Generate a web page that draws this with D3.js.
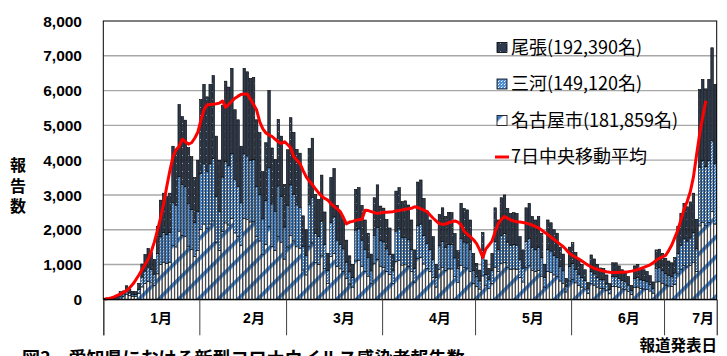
<!DOCTYPE html>
<html><head><meta charset="utf-8">
<script src="https://cdn.jsdelivr.net/npm/d3@7"></script>
<style>
html,body{margin:0;padding:0;background:#fff;}
svg{display:block;}
</style></head><body>
<svg id="c" width="727" height="356"></svg>
<script>
// ---- data (daily reports, 2022-01-01 .. 2022-07-17) ----
const nagoya = [7,7,14,21,35,77,84,137,102,81,77,161,355,452,513,473,403,732,998,1068,1033,1068,1540,1505,1960,1838,1803,1526,1435,1225,1400,
2013,2163,2037,2163,2251,1642,1400,1953,2195,2135,2324,1908,1806,1540,2324,2289,2223,2233,1806,1677,1285,1575,2100,1523,1407,1810,1642,1155,
1505,1827,1680,1509,1470,840,700,1519,1621,1054,1005,1250,879,462,1225,1316,945,875,805,595,438,350,1106,1124,945,798,665,455,1022,1152,938,
917,805,718,455,1089,1124,984,991,949,798,497,1180,1201,1015,889,798,630,350,854,921,833,875,872,662,490,966,914,900,798,462,
361,294,672,396,312,462,921,798,1022,1050,914,865,872,865,630,497,921,966,833,798,833,665,350,798,770,700,665,525,455,210,525,
571,473,403,350,298,168,446,406,350,315,312,245,158,368,368,336,298,280,228,140,336,350,312,298,280,238,175,497,504,462,
413,385,368,420,735,865,966,931,980,1068,805,2111,2212,2118,2212,2531,2163];
const mikawa = [6,6,11,17,28,62,67,109,81,64,62,129,284,361,410,378,322,585,798,854,826,854,1232,1204,1568,1470,1442,1221,1148,980,1120,
1610,1730,1630,1730,1800,1313,1120,1562,1756,1708,1859,1526,1445,1232,1859,1831,1778,1786,1445,1341,1028,1260,1680,1218,1126,1448,1313,924,
1204,1462,1344,1207,1176,672,560,1215,1296,843,804,1000,703,370,980,1053,756,700,644,476,350,280,885,899,756,638,532,364,818,921,750,
734,644,574,364,871,899,787,792,759,638,398,944,960,812,711,638,504,280,683,736,666,700,697,529,392,773,731,720,638,370,
288,235,538,316,249,370,736,638,818,840,731,692,697,692,504,398,736,773,666,638,666,532,280,638,616,560,532,420,364,168,420,
456,378,322,280,238,134,357,325,280,252,249,196,126,294,294,269,238,224,182,112,269,280,249,238,224,190,140,398,403,370,
330,308,294,336,588,692,773,745,784,854,644,1688,1770,1694,1770,2024,1730];
const owari = [7,7,15,22,37,81,89,144,107,85,81,170,376,477,542,499,425,773,1054,1128,1091,1128,1628,1591,2072,1942,1905,1613,1517,1295,1480,
2127,2287,2153,2287,2379,1735,1480,2065,2319,2257,2457,2016,1909,1628,2457,2420,2349,2361,1909,1772,1357,1665,2220,1609,1487,1912,1735,1221,
1591,1931,1776,1594,1554,888,740,1606,1713,1113,1061,1320,928,488,1295,1391,999,925,851,629,462,370,1169,1187,999,844,703,481,1080,1217,992,
969,851,758,481,1150,1187,1039,1047,1002,844,525,1246,1269,1073,940,844,666,370,903,973,881,925,921,699,518,1021,965,950,844,488,
381,311,710,418,329,488,973,844,1080,1110,965,913,921,913,666,525,973,1021,881,844,881,703,370,844,814,740,703,555,481,222,555,
603,499,425,370,314,178,472,429,370,333,329,259,166,388,388,355,314,296,240,148,355,370,329,314,296,252,185,525,533,488,
437,407,388,444,777,913,1021,984,1036,1128,851,2231,2338,2238,2338,2675,2287];
const movingAvg = [10,20,40,70,110,150,200,250,330,430,560,700,850,1000,1150,1380,1650,1990,2350,2750,3250,3700,4100,4300,4400,4600,4530,4460,4500,4630,4800,
5150,5450,5590,5600,5610,5620,5640,5700,5520,5600,5700,5780,5840,5890,5900,5900,5750,5600,5440,5100,4900,4780,4720,4680,4600,4530,4480,4530,
4450,4350,4100,4000,3900,3700,3520,3400,3300,3170,3060,2960,2900,2850,2750,2670,2600,2520,2350,2170,2220,2240,2270,2290,2300,2560,2550,2520,2490,2470,2480,
2500,2500,2510,2520,2540,2550,2570,2590,2600,2615,2660,2640,2600,2560,2520,2420,2330,2250,2170,2160,2165,2200,2230,2250,2220,2140,1950,1870,1800,1710,
1600,1420,1200,1450,1560,1680,1950,2180,2300,2380,2330,2280,2250,2230,2220,2210,2190,2165,2130,2090,2050,1990,1920,1860,1790,1720,1650,1580,1510,1420,1320,
1260,1210,1160,1100,1040,980,930,890,860,835,810,790,776,772,770,775,780,788,795,810,830,855,885,920,955,990,1050,1120,1180,1220,
1260,1400,1560,1780,2000,2300,2600,2820,3100,3520,4150,4750,5250,5710];
const legendLabels = ["尾張(192,390名)","三河(149,120名)","名古屋市(181,859名)","7日中央移動平均"];
const yTicks = [0,1000,2000,3000,4000,5000,6000,7000,8000];
const monthLabels = ["1月","2月","3月","4月","5月","6月","7月"];
const monthLabelDates = ["2022-01-19","2022-02-18","2022-03-19","2022-04-19","2022-05-19","2022-06-19","2022-07-13"];
const startDate = new Date(Date.UTC(2022,0,1));
const endDate = new Date(Date.UTC(2022,6,18));

// ---- chart ----
const svg = d3.select("#c");
const X0 = 103.3, X1 = 716.7, Y0 = 299.3, Y1 = 21;
const days = d3.utcDay.range(startDate, endDate);
const x = d3.scaleUtc().domain([startDate, endDate]).range([X0, X1]);
const y = d3.scaleLinear().domain([0, 8000]).range([Y0, Y1]);
const pitch = x(days[1]) - x(days[0]);

const defs = svg.append("defs");
const pO = defs.append("pattern").attr("id","pOwari").attr("patternUnits","userSpaceOnUse").attr("width",6).attr("height",8);
pO.append("rect").attr("width",6).attr("height",8).attr("fill","#2e3b4f");
pO.append("rect").attr("x",2).attr("y",3).attr("width",1).attr("height",1).attr("fill","#8d9db2");
const pM = defs.append("pattern").attr("id","pMikawa").attr("patternUnits","userSpaceOnUse").attr("width",3).attr("height",3);
pM.append("rect").attr("width",3).attr("height",3).attr("fill","#4f8dd2");
pM.append("rect").attr("x",0).attr("y",0).attr("width",1).attr("height",1).attr("fill","#ffffff");
pM.append("rect").attr("x",1).attr("y",2).attr("width",1).attr("height",1).attr("fill","#a8caee");
const pN = defs.append("pattern").attr("id","pNagoya").attr("patternUnits","userSpaceOnUse")
  .attr("width",14).attr("height",14).attr("patternTransform","rotate(-45)");
pN.append("rect").attr("width",14).attr("height",14).attr("fill","#ffffff");
pN.append("rect").attr("width",14).attr("height",3.6).attr("fill","#3a7bc6");

// gridlines
svg.append("g").selectAll("line").data(yTicks.filter(t => t > 0 && t < 8000)).join("line")
  .attr("x1", X0).attr("x2", X1).attr("y1", d => y(d)).attr("y2", d => y(d))
  .attr("stroke", "#a8a8a8").attr("stroke-width", 1.4);

// stacked bars
const table = days.map((d, i) => ({date: d, nagoya: nagoya[i], mikawa: mikawa[i], owari: owari[i]}));
const keys = ["nagoya","mikawa","owari"];
const fills = {nagoya: "url(#pNagoya)", mikawa: "url(#pMikawa)", owari: "url(#pOwari)"};
const stacked = d3.stack().keys(keys)(table);
svg.append("g").selectAll("g").data(stacked).join("g")
  .attr("fill", s => fills[s.key])
  .selectAll("rect").data(s => s).join("rect")
  .attr("x", d => x(d.data.date) + 0.3)
  .attr("width", pitch - 0.6)
  .attr("y", d => y(d[1]))
  .attr("height", d => Math.max(0, y(d[0]) - y(d[1])))
  .attr("stroke", "#000").attr("stroke-width", 0.6);

// moving average line
const line = d3.line().x((d, i) => x(days[i]) + pitch / 2).y(d => y(d));
svg.append("path").datum(movingAvg).attr("d", line)
  .attr("fill", "none").attr("stroke", "#ff0000").attr("stroke-width", 3).attr("stroke-linejoin", "round");

// frame
svg.append("rect").attr("x", X0).attr("y", Y1).attr("width", X1 - X0).attr("height", Y0 - Y1)
  .attr("fill", "none").attr("stroke", "#000").attr("stroke-width", 1);

// x axis (month separators)
const xAxis = d3.axisBottom(x).ticks(d3.utcMonth.every(1)).tickSize(36).tickFormat("");
const gx = svg.append("g").attr("transform", `translate(0,${Y0})`).call(xAxis);
gx.select(".domain").attr("stroke", "#000");
gx.selectAll(".tick line").attr("stroke", "#404040").attr("stroke-width", 1);
svg.append("g").selectAll("text").data(monthLabels).join("text")
  .attr("x", (d, i) => x(new Date(monthLabelDates[i] + "T00:00:00Z")) + 2)
  .attr("y", 323)
  .attr("text-anchor", "middle")
  .attr("font-family", "'Liberation Sans','Noto Sans CJK JP',sans-serif")
  .attr("font-weight", "bold").attr("font-size", 14).attr("fill", "#000")
  .text(d => d);

// y axis labels
svg.append("g").selectAll("text").data(yTicks).join("text")
  .attr("x", 82).attr("y", d => y(d)).attr("dy", "0.36em")
  .attr("text-anchor", "end")
  .attr("font-family", "'Liberation Sans',Arial,sans-serif")
  .attr("font-weight", "bold").attr("font-size", 15.5).attr("fill", "#000")
  .text(d => d3.format(",")(d));

// y title (vertical)
svg.append("text")
  .attr("x", 18).attr("y", 157)
  .attr("style", "writing-mode: vertical-rl; text-orientation: upright;")
  .attr("letter-spacing", 4.5)
  .attr("font-family", "'Noto Sans CJK JP',sans-serif")
  .attr("font-weight", "bold").attr("font-size", 16).attr("fill", "#000")
  .text("報告数");

// legend
const lg = svg.append("g");
const rowY = [47.5, 84, 120.5, 157];
const swatches = ["url(#pOwari)", "url(#pMikawa)", "url(#pNagoya)"];
swatches.forEach((f, i) => {
  lg.append("rect").attr("x", 497).attr("y", rowY[i] - 5).attr("width", 10).attr("height", 10)
    .attr("fill", f).attr("stroke", "#000").attr("stroke-width", 0.8);
});
lg.append("line").attr("x1", 495).attr("x2", 509).attr("y1", rowY[3]).attr("y2", rowY[3])
  .attr("stroke", "#ff0000").attr("stroke-width", 3);
lg.selectAll("text").data(legendLabels).join("text")
  .attr("x", 511).attr("y", (d, i) => rowY[i]).attr("dy", "0.36em")
  .attr("font-family", "'Noto Sans CJK JP',sans-serif")
  .attr("font-size", 18).attr("fill", "#000")
  .text(d => d);

// bottom texts
svg.append("text").attr("x", 717).attr("y", 351).attr("text-anchor", "end")
  .attr("font-family", "'Noto Sans CJK JP',sans-serif").attr("font-weight", "bold")
  .attr("font-size", 15.5).attr("fill", "#000").text("報道発表日");
svg.append("text").attr("x", 22).attr("y", 365)
  .attr("font-family", "'Noto Sans CJK JP',sans-serif").attr("font-weight", "bold")
  .attr("font-size", 18).attr("fill", "#000").text("図3　愛知県における新型コロナウイルス感染者報告数");
</script>
</body></html>
